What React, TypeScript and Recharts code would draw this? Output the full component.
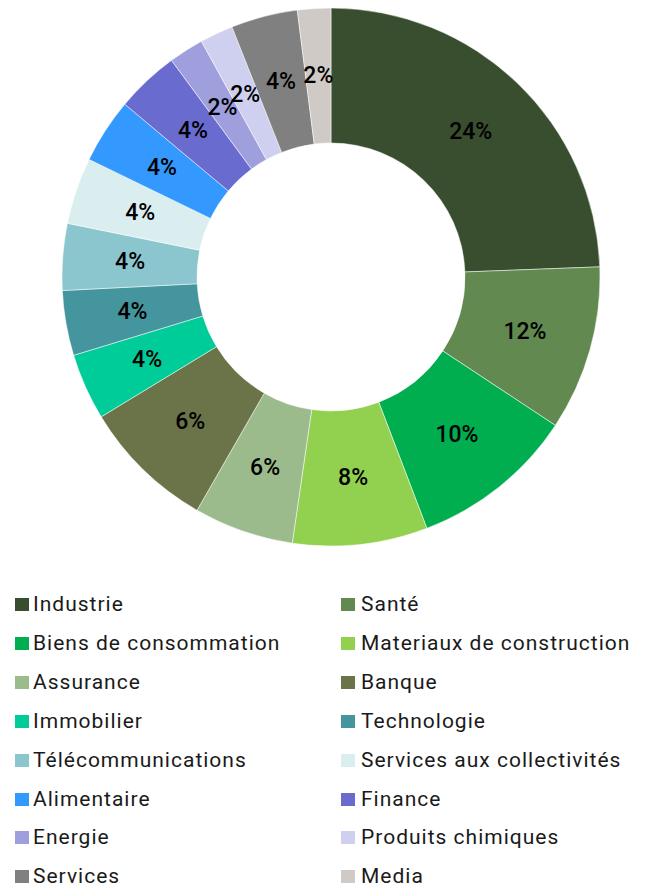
import { PieChart, Pie, Cell, Legend } from 'recharts';

// secteurs, dans l'ordre du graphique (sens horaire depuis midi)
const sectors = [
  'Industrie', 'Santé', 'Biens de consommation', 'Materiaux de construction',
  'Assurance', 'Banque', 'Immobilier', 'Technologie',
  'Télécommunications', 'Services aux collectivités', 'Alimentaire', 'Finance',
  'Energie', 'Produits chimiques', 'Services', 'Media',
];
const weights = [24.4, 9.9, 9.9, 8.1, 6, 8, 4, 3.9, 4, 4, 3.9, 3.8, 2.1, 2, 4, 2];
// pourcentages affichés dans les parts
const shownPct = [24, 12, 10, 8, 6, 6, 4, 4, 4, 4, 4, 4, 2, 2, 4, 2];
const colors = [
  '#384e2f', '#62894f', '#00ae50', '#92d050',
  '#9cbb8c', '#6b7348', '#00cc99', '#44959d',
  '#8bc6ce', '#daeef0', '#3399ff', '#6a6bcf',
  '#9f9fdd', '#cfcff0', '#808080', '#d0cac6',
];

const data = sectors.map((name, i) => ({ name, value: weights[i], pct: shownPct[i] }));

const FONT = 'Roboto, "Noto Sans", sans-serif';
const RAD = Math.PI / 180;

function renderLabel(p: any) {
  const r = (p.innerRadius + p.outerRadius) / 2;
  const x = p.cx + r * Math.cos(-p.midAngle * RAD);
  const y = p.cy + r * Math.sin(-p.midAngle * RAD);
  return (
    <text x={x} y={y} textAnchor="middle" dominantBaseline="central" fill="#000" fontSize={23} fontWeight={500} fontFamily={FONT}>
      {`${data[p.index].pct}%`}
    </text>
  );
}

function renderLegend() {
  return (
    <div style={{ position: 'relative', width: 649, height: 300, fontFamily: FONT }}>
      {data.map((d, i) => (
        <div
          key={d.name}
          style={{
            position: 'absolute',
            left: i % 2 === 0 ? 15 : 341,
            top: Math.floor(i / 2) * 38.9,
            height: 30,
            display: 'flex',
            alignItems: 'baseline',
            whiteSpace: 'nowrap',
            fontSize: 21,
            letterSpacing: 1.0,
            color: '#1a1a1a',
          }}
        >
          <span style={{ display: 'inline-block', width: 14, height: 13, background: colors[i], marginRight: i % 2 === 0 ? 4 : 6 }} />
          {d.name}
        </div>
      ))}
    </div>
  );
}

export default function App() {
  return (
    <div style={{ width: 649, height: 887 }}>
      <style>{'body{margin:0}'}</style>
      <PieChart width={649} height={887} margin={{ top: 0, right: 0, bottom: 0, left: 0 }}>
        <Pie
          data={data}
          dataKey="value"
          nameKey="name"
          cx={331}
          cy={277}
          innerRadius={134}
          outerRadius={269}
          startAngle={90}
          endAngle={-270}
          stroke="#ffffff"
          strokeWidth={0.5}
          label={renderLabel}
          labelLine={false}
          isAnimationActive={false}
        >
          {data.map((d, i) => (
            <Cell key={d.name} fill={colors[i]} />
          ))}
        </Pie>
        <Legend content={renderLegend} wrapperStyle={{ position: 'absolute', left: 0, top: 592, width: 649 }} />
      </PieChart>
    </div>
  );
}
